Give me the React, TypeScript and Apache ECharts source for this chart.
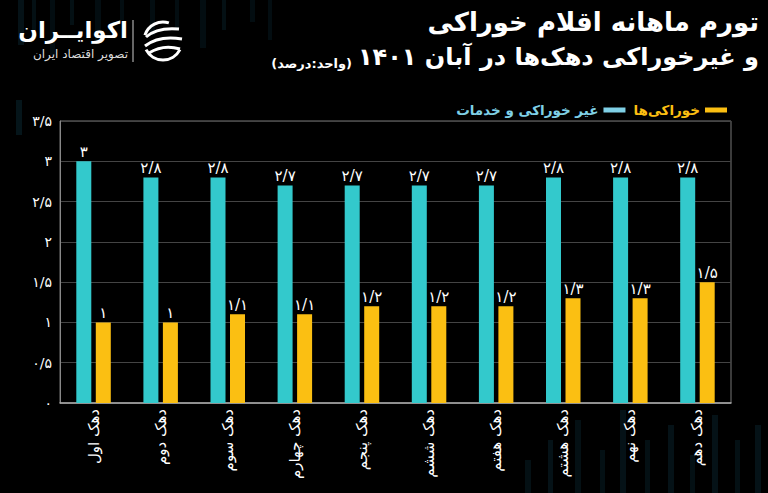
import React, { useEffect, useRef } from "react";
import * as echarts from "echarts";

const categories = ["دهک اول", "دهک دوم", "دهک سوم", "دهک چهارم", "دهک پنجم", "دهک ششم", "دهک هفتم", "دهک هشتم", "دهک نهم", "دهک دهم"];
const nonFood = [3, 2.8, 2.8, 2.7, 2.7, 2.7, 2.7, 2.8, 2.8, 2.8];
const food = [1, 1, 1.1, 1.1, 1.2, 1.2, 1.2, 1.3, 1.3, 1.5];
const seriesNames = ["غیر خوراکی و خدمات", "خوراکی‌ها"];
const titleLine1 = "تورم ماهانه اقلام خوراکی";
const titleLine2 = "و غیرخوراکی دهک‌ها در آبان ۱۴۰۱";
const unitText = "(واحد:درصد)";
const brandName = "اکوایــران";
const brandSub = "تصویر اقتصاد ایران";

const FA = "۰۱۲۳۴۵۶۷۸۹";
const toFa = (v: number | string) =>
  String(v).replace(".", "/").replace(/\d/g, (d) => FA[Number(d)]);

const TEAL = "#33c9cc";
const YELLOW = "#fbbf12";
const FONT = "DejaVu Sans";

// decorative background stripes [x, y, w, h, opacity]
const deco: number[][] = [
  [18, 0, 6, 45, 0.35], [32, 0, 4, 30, 0.3], [50, 0, 5, 55, 0.25], [70, 0, 4, 25, 0.3],
  [95, 0, 6, 40, 0.25], [120, 0, 4, 20, 0.25], [150, 0, 5, 35, 0.25], [175, 0, 4, 28, 0.25],
  [200, 0, 6, 48, 0.25], [222, 0, 4, 30, 0.3], [250, 0, 5, 22, 0.25], [268, 0, 4, 40, 0.25],
  [16, 100, 6, 35, 0.4],
  [525, 460, 6, 33, 0.3], [548, 440, 5, 53, 0.35], [575, 420, 6, 73, 0.3], [600, 450, 5, 43, 0.3],
  [620, 410, 6, 83, 0.35], [645, 440, 5, 53, 0.3], [668, 425, 6, 68, 0.35], [690, 455, 5, 38, 0.3],
  [712, 415, 6, 78, 0.35], [735, 440, 5, 53, 0.3], [755, 425, 6, 68, 0.35],
];

export default function App() {
  const ref = useRef<HTMLDivElement>(null);
  useEffect(() => {
    const chart = echarts.init(ref.current!, null, { renderer: "svg" });
    const decoEls = deco.map(([x, y, w, h, o]) => ({
      type: "rect",
      silent: true,
      z: -10,
      shape: { x, y, width: w, height: h },
      style: { fill: "#0d3442", opacity: o },
    }));
    chart.setOption({
      animation: false,
      backgroundColor: "#000000",
      textStyle: { fontFamily: FONT },
      graphic: [
        ...decoEls,
        {
          type: "text", right: 9, top: 9,
          style: { text: titleLine1, fill: "#ffffff", font: `bold 26px "${FONT}"`, textAlign: "right" },
        },
        {
          type: "text", right: 9, top: 45,
          style: { text: titleLine2, fill: "#ffffff", font: `bold 24px "${FONT}"`, textAlign: "right" },
        },
        {
          type: "text", x: 352, y: 57,
          style: { text: unitText, fill: "#ffffff", font: `bold 13px "${FONT}"`, textAlign: "right" },
        },
        {
          type: "text", x: 128, y: 18,
          style: { text: brandName, fill: "#ffffff", font: `bold 23px "${FONT}"`, textAlign: "right" },
        },
        {
          type: "text", x: 128, y: 48,
          style: { text: brandSub, fill: "#dddddd", font: `12px "${FONT}"`, textAlign: "right" },
        },
        {
          type: "line", shape: { x1: 133, y1: 20, x2: 133, y2: 62 },
          style: { stroke: "#cccccc", lineWidth: 1 },
        },
        {
          type: "group", x: 163, y: 41,
          children: [
            { type: "arc", shape: { cx: 0, cy: 0, r: 19, startAngle: Math.PI * 0.15, endAngle: Math.PI * 0.85 }, style: { stroke: "#fff", lineWidth: 3, fill: "none" } },
            { type: "arc", shape: { cx: 0, cy: 0, r: 19, startAngle: Math.PI * 1.1, endAngle: Math.PI * 1.6 }, style: { stroke: "#fff", lineWidth: 3, fill: "none" } },
            { type: "bezierCurve", shape: { x1: -17, y1: -4, cpx1: -6, cpy1: -14, x2: 16, y2: -12 }, style: { stroke: "#fff", lineWidth: 3, fill: "none" } },
            { type: "bezierCurve", shape: { x1: -18, y1: 5, cpx1: -4, cpy1: -6, x2: 19, y2: -2 }, style: { stroke: "#fff", lineWidth: 3, fill: "none" } },
            { type: "bezierCurve", shape: { x1: -14, y1: 12, cpx1: 0, cpy1: 3, x2: 17, y2: 8 }, style: { stroke: "#fff", lineWidth: 3, fill: "none" } },
          ],
        },
      ],
      legend: {
        right: 36,
        top: 98,
        align: "right",
        itemWidth: 22,
        itemHeight: 5,
        itemGap: 8,
        icon: "rect",
        textStyle: { fontFamily: FONT, fontSize: 13.5, fontWeight: "bold" },
        data: [
          { name: seriesNames[0], itemStyle: { color: "#7fd0e6" }, textStyle: { color: "#7fd0e6" } },
          { name: seriesNames[1], itemStyle: { color: YELLOW }, textStyle: { color: YELLOW } },
        ],
      },
      grid: {
        left: 60, right: 37, top: 121, bottom: 90,
        show: true, borderColor: "#777777", borderWidth: 1, containLabel: false,
      },
      xAxis: {
        type: "category",
        data: categories,
        axisLine: { lineStyle: { color: "#aaaaaa", width: 1.5 } },
        axisTick: { show: false },
        axisLabel: { rotate: 90, color: "#ffffff", fontSize: 15, fontFamily: FONT, margin: 6, interval: 0 },
      },
      yAxis: {
        type: "value",
        min: 0, max: 3.5, interval: 0.5,
        axisLine: { show: true, lineStyle: { color: "#888888" } },
        splitLine: { lineStyle: { color: "#444444", width: 1 } },
        axisLabel: { color: "#ffffff", fontSize: 14, fontFamily: FONT, margin: 8, formatter: (v: number) => toFa(v) },
      },
      series: [
        {
          name: seriesNames[0], type: "bar", data: nonFood, barWidth: 15, barGap: "30%",
          itemStyle: { color: TEAL },
          label: { show: true, position: "top", distance: 2, color: "#ffffff", fontSize: 15, fontFamily: FONT, formatter: (p: any) => toFa(p.value) },
        },
        {
          name: seriesNames[1], type: "bar", data: food, barWidth: 15, barGap: "30%",
          itemStyle: { color: YELLOW },
          label: { show: true, position: "top", distance: 2, color: "#ffffff", fontSize: 15, fontFamily: FONT, formatter: (p: any) => toFa(p.value) },
        },
      ],
    });
    return () => chart.dispose();
  }, []);
  return <div ref={ref} style={{ position: "fixed", left: 0, top: 0, width: 768, height: 493 }} />;
}
